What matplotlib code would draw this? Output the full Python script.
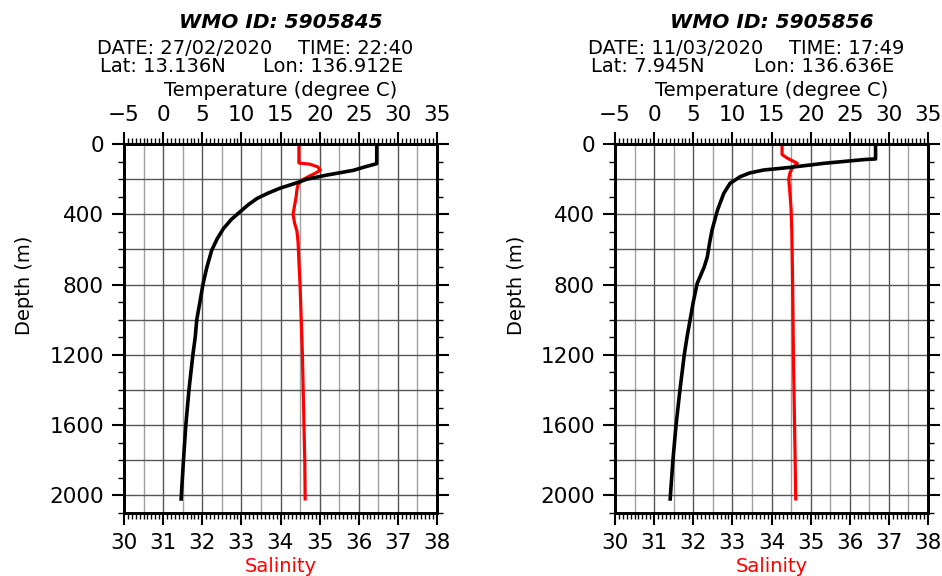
import numpy as np
import matplotlib.pyplot as plt
from matplotlib.ticker import MultipleLocator

plt.rcParams['font.family'] = ['DejaVu Sans']

# --- Float profiles (depth in m) ---
# WMO 5905845
depth_t1 = [0, 112, 130, 150, 177, 200, 225, 252, 280, 310, 345, 387, 430, 482,
            540, 606, 700, 796, 900, 1000, 1100, 1200, 1400, 1600, 1800, 2020]
temp1 = [27.3, 27.3, 25.8, 24.3, 20.9, 18.4, 16.8, 14.9, 13.4, 12.0, 10.9, 9.8, 8.7, 7.7,
         6.9, 6.2, 5.6, 5.1, 4.7, 4.3, 4.1, 3.8, 3.3, 2.9, 2.6, 2.3]
depth_s1 = [0, 108, 115, 130, 149, 165, 185, 205, 230, 260, 300, 350, 400, 450,
            495, 560, 667, 800, 1000, 1200, 1400, 1600, 1800, 2020]
sal1 = [34.47, 34.47, 34.75, 34.95, 35.02, 34.9, 34.72, 34.55, 34.45, 34.42, 34.40, 34.36, 34.32, 34.36,
        34.42, 34.45, 34.47, 34.50, 34.53, 34.56, 34.58, 34.60, 34.62, 34.63]

# WMO 5905856
depth_t2 = [0, 85, 88, 110, 133, 148, 165, 186, 224, 281, 376, 490, 560, 642,
            700, 794, 900, 1000, 1100, 1200, 1400, 1600, 1800, 2020]
temp2 = [28.3, 28.3, 27.0, 21.7, 17.4, 14.0, 12.2, 11.0, 9.7, 8.9, 8.1, 7.4, 7.1, 6.8,
         6.4, 5.5, 5.0, 4.6, 4.2, 3.85, 3.3, 2.8, 2.4, 2.05]
depth_s2 = [0, 60, 80, 110, 137, 165, 200, 275, 370, 500, 800, 1000, 1200, 1600, 2020]
sal2 = [34.27, 34.27, 34.40, 34.66, 34.53, 34.47, 34.44, 34.47, 34.50, 34.52, 34.54, 34.55, 34.56, 34.59, 34.62]

floats = [
    dict(wmo="5905845", date="27/02/2020", time="22:40", lat="13.136N", lon="136.912E",
         dt=depth_t1, t=temp1, ds=depth_s1, s=sal1),
    dict(wmo="5905856", date="11/03/2020", time="17:49", lat="7.945N", lon="136.636E",
         dt=depth_t2, t=temp2, ds=depth_s2, s=sal2),
]

W, H = 942, 576
fig = plt.figure(figsize=(W / 100, H / 100), dpi=100)


def fx(px):
    return px / W


def fy(py):
    return 1 - py / H


box_left = [124, 615]
box_w = 313
TICK_FS = 15.5

for k, fl in enumerate(floats):
    x0 = box_left[k]
    ax = fig.add_axes([fx(x0), fy(513), fx(box_w), (513 - 144) / H])

    # salinity on bottom axis
    ax.set_xlim(30, 38)
    ax.set_ylim(2100, 0)
    ax.xaxis.set_major_locator(MultipleLocator(1))
    ax.xaxis.set_minor_locator(MultipleLocator(0.1))
    ax.yaxis.set_major_locator(MultipleLocator(400))
    ax.yaxis.set_minor_locator(MultipleLocator(100))
    ax.tick_params(axis='both', which='major', direction='out', length=8.5, width=1.5,
                   labelsize=TICK_FS, pad=6)
    ax.tick_params(axis='y', which='major', right=True)
    ax.tick_params(axis='both', which='minor', direction='out', length=4.5, width=1)
    ax.tick_params(axis='y', which='minor', right=True)
    for sp in ax.spines.values():
        sp.set_linewidth(2)

    # grid: darker at whole salinity units, lighter in between
    for v in np.arange(31, 38, 1):
        ax.axvline(v, color='#555555', lw=1, zorder=0)
    for v in np.arange(30.5, 38, 1):
        ax.axvline(v, color='#a0a0a0', lw=1, zorder=0)
    for h in np.arange(200, 2100, 200):
        ax.axhline(h, color='#555555', lw=1, zorder=0)

    ax.plot(fl['s'], fl['ds'], color='#ff0000', lw=2.3, zorder=3)

    # temperature on top axis
    axt = ax.twiny()
    axt.set_xlim(-5, 35)
    axt.xaxis.set_major_locator(MultipleLocator(5))
    axt.xaxis.set_minor_locator(MultipleLocator(0.5))
    axt.tick_params(axis='x', which='major', direction='out', length=8.5, width=1.5,
                    labelsize=TICK_FS, pad=5)
    axt.tick_params(axis='x', which='minor', direction='out', length=4.5, width=1)
    for sp in axt.spines.values():
        sp.set_linewidth(2)
    axt.plot(fl['t'], fl['dt'], color='black', lw=2.6, zorder=4)

    # headers
    off = x0 - 124
    cx = x0 + box_w / 2
    fig.text(fx(cx), fy(22), f"WMO ID: {fl['wmo']}", ha='center', va='center',
             fontsize=14.5, fontweight='bold', fontstyle='italic')
    fig.text(fx(97 + off), fy(48), f"DATE: {fl['date']}", ha='left', va='center', fontsize=14)
    fig.text(fx(298 + off), fy(48), f"TIME: {fl['time']}", ha='left', va='center', fontsize=14)
    fig.text(fx(100 + off), fy(67), f"Lat: {fl['lat']}", ha='left', va='center', fontsize=14)
    fig.text(fx(263 + off), fy(67), f"Lon: {fl['lon']}", ha='left', va='center', fontsize=14)
    fig.text(fx(cx), fy(90), "Temperature (degree C)", ha='center', va='center', fontsize=14)
    fig.text(fx(cx), fy(566), "Salinity", ha='center', va='center', fontsize=14, color='#ff0000')
    fig.text(fx(25 + off), fy(285), "Depth (m)", ha='center', va='center', fontsize=14,
             rotation=90)

fig.savefig("out.png", dpi=100)
